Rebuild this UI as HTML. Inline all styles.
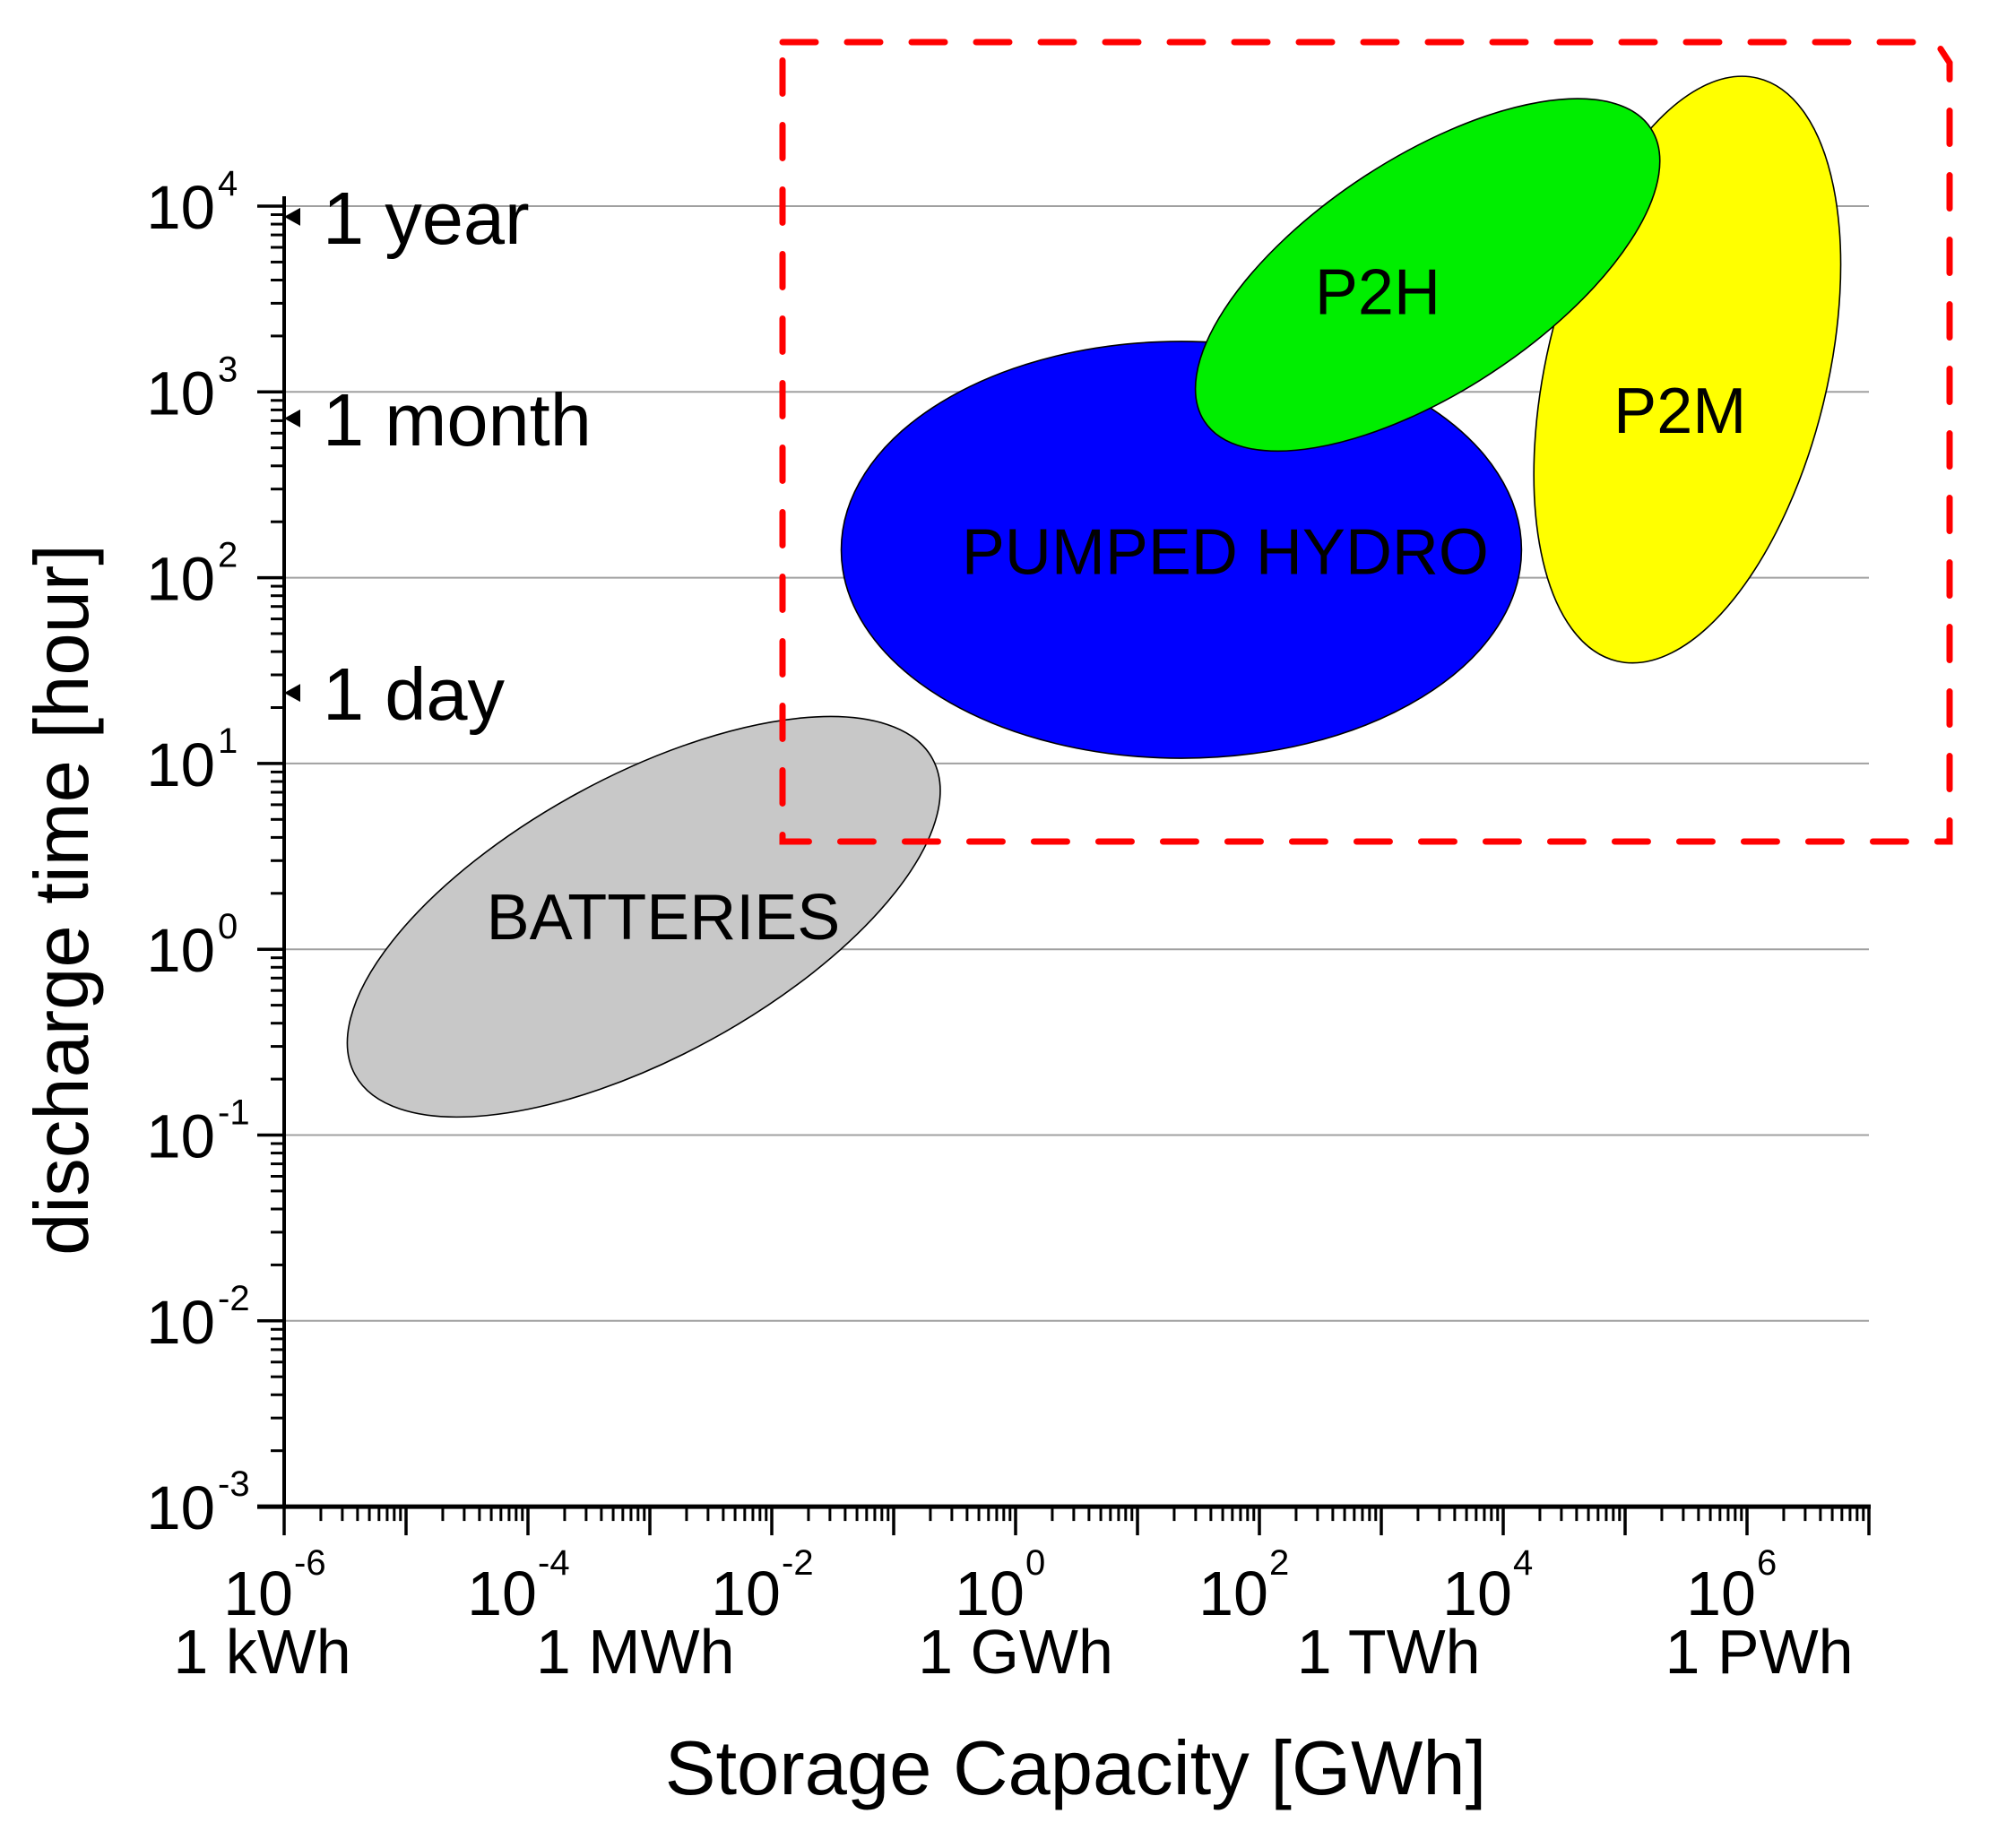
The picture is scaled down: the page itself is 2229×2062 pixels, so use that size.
<!DOCTYPE html>
<html><head><meta charset="utf-8"><style>
html,body{margin:0;padding:0;background:#fff;}
svg{display:block;font-family:"Liberation Sans",Arial,sans-serif;}
</style></head><body>
<svg id="chart" width="2229" height="2062" viewBox="0 0 2229 2062" xmlns="http://www.w3.org/2000/svg"></svg>
<script>
// data arrays
const xDecades = [-6,-5,-4,-3,-2,-1,0,1,2,3,4,5,6,7];
const xLabelExps = [-6,-4,-2,0,2,4,6];
const unitLabels = ["1 kWh","1 MWh","1 GWh","1 TWh","1 PWh"];
const unitExps = [-6.18,-3.12,0,3.06,6.1];
const yDecades = [4,3,2,1,0,-1,-2,-3];
const gridExps = [4,3,2,1,0,-1,-2];
const markerNames = ["1 year","1 month","1 day"];
const markerHours = [8760,720,24];
const shapeNames = ["BATTERIES","PUMPED HYDRO","P2H","P2M"];
const shapeLogX = [-3.05,1.36,3.38,5.51];
const shapeLogY = [0.175,2.15,3.63,3.12];
const shapeRadA = [2.70,2.79,2.19,1.15];   // half-width (x-decade units)
const shapeRadB = [1.15,1.71,0.96,2.46];   // half-height (x-decade units)
const shapeAngle = [-28.7,0,-33.3,13.6];
const shapeColors = ["#c8c8c8","#0000ff","#00ee00","#ffff00"];
const drawOrder = [0,1,3,2];
const labelLogX = [-2.89,1.72,2.97,5.45];
const labelLogY = [0.175,2.14,3.54,2.9];

// axes
const X0=317, XD=136, Y0=230, YD=207.3;
const sx = e => X0 + (e + 6) * XD;
const sy = e => Y0 + (4 - e) * YD;
const NS="http://www.w3.org/2000/svg";
const svg=document.getElementById('chart');
function mk(tag, attrs, parent){const el=document.createElementNS(NS,tag);for(const k in attrs)el.setAttribute(k,attrs[k]);(parent||svg).appendChild(el);return el;}

// gridlines
gridExps.forEach(e=>{
  const l=mk('line',{x1:X0,x2:sx(7),y1:sy(e),y2:sy(e),stroke:'#a0a0a0','stroke-width':2});
  
  
});

// shapes
drawOrder.forEach(i=>{
  const cx=sx(shapeLogX[i]), cy=sy(shapeLogY[i]);
  const el=mk('ellipse',{cx:cx,cy:cy,rx:shapeRadA[i]*XD,ry:shapeRadB[i]*XD,fill:shapeColors[i],stroke:'#000','stroke-width':1.6,transform:`rotate(${shapeAngle[i]} ${cx} ${cy})`});
  
  
});
shapeNames.forEach((n,i)=>{
  const t=mk('text',{x:sx(labelLogX[i]),y:sy(labelLogY[i])+25,'font-size':72,'text-anchor':'middle',fill:'#000'});
  t.textContent=n;
  
  
});

// red dashed box
const box=mk('path',{d:'M873,47 H2160 L2175,70 V939 H873 Z',fill:'none',stroke:'#ff0000','stroke-width':7,'stroke-dasharray':'37 35','stroke-linecap':'round'});



// axes lines
const ya=mk('line',{x1:X0,x2:X0,y1:219,y2:sy(-3),stroke:'#000','stroke-width':4});


const xa=mk('line',{x1:X0-30,x2:sx(7)+2,y1:sy(-3),y2:sy(-3),stroke:'#000','stroke-width':5});



// y ticks
yDecades.forEach(e=>{
  mk('line',{x1:X0-30,x2:X0,y1:sy(e),y2:sy(e),stroke:'#000','stroke-width':3.5});
  if(e>-3) for(let m=2;m<10;m++){const y=sy(e-1+Math.log10(m));mk('line',{x1:X0-15,x2:X0,y1:y,y2:y,stroke:'#000','stroke-width':3});}
  const t=mk('text',{x:240,y:sy(e)+25,'font-size':69,'text-anchor':'end'});
  t.textContent='10';
  
  
  const s=mk('text',{x:243,y:sy(e)-12,'font-size':40,'text-anchor':'start'});
  s.textContent=String(e);
});
// x ticks
xDecades.forEach(e=>{
  mk('line',{x1:sx(e),x2:sx(e),y1:sy(-3),y2:sy(-3)+32,stroke:'#000','stroke-width':3.5});
  if(e<7) for(let m=2;m<10;m++){const x=sx(e+Math.log10(m));mk('line',{x1:x,x2:x,y1:sy(-3),y2:sy(-3)+16,stroke:'#000','stroke-width':3});}
});
xLabelExps.forEach(e=>{
  const t=mk('text',{x:sx(e)+10,y:1802,'font-size':70,'text-anchor':'end'});
  t.textContent='10';
  
  
  const s=mk('text',{x:sx(e)+11,y:1757,'font-size':40});
  s.textContent=String(e);
});
unitLabels.forEach((u,i)=>{
  const t=mk('text',{x:sx(unitExps[i]),y:1867,'font-size':70,'text-anchor':'middle'});
  t.textContent=u;
  
  
});

// markers
markerNames.forEach((n,i)=>{
  const y=sy(Math.log10(markerHours[i]));
  const p=mk('path',{d:`M${X0},${y} L${X0+18},${y-10} L${X0+18},${y+10} Z`,fill:'#000'});
  
  
  const t=mk('text',{x:360,y:y+30,'font-size':83});
  t.textContent=n;
  
  
});

// axis titles
const xt=mk('text',{x:1200,y:2002,'font-size':85,'text-anchor':'middle'});
xt.textContent='Storage Capacity [GWh]';


const yt=mk('text',{x:0,y:0,'font-size':85,'text-anchor':'middle',transform:'translate(98,1004) rotate(-90)'});
yt.textContent='discharge time [hour]';


</script>
</body></html>
